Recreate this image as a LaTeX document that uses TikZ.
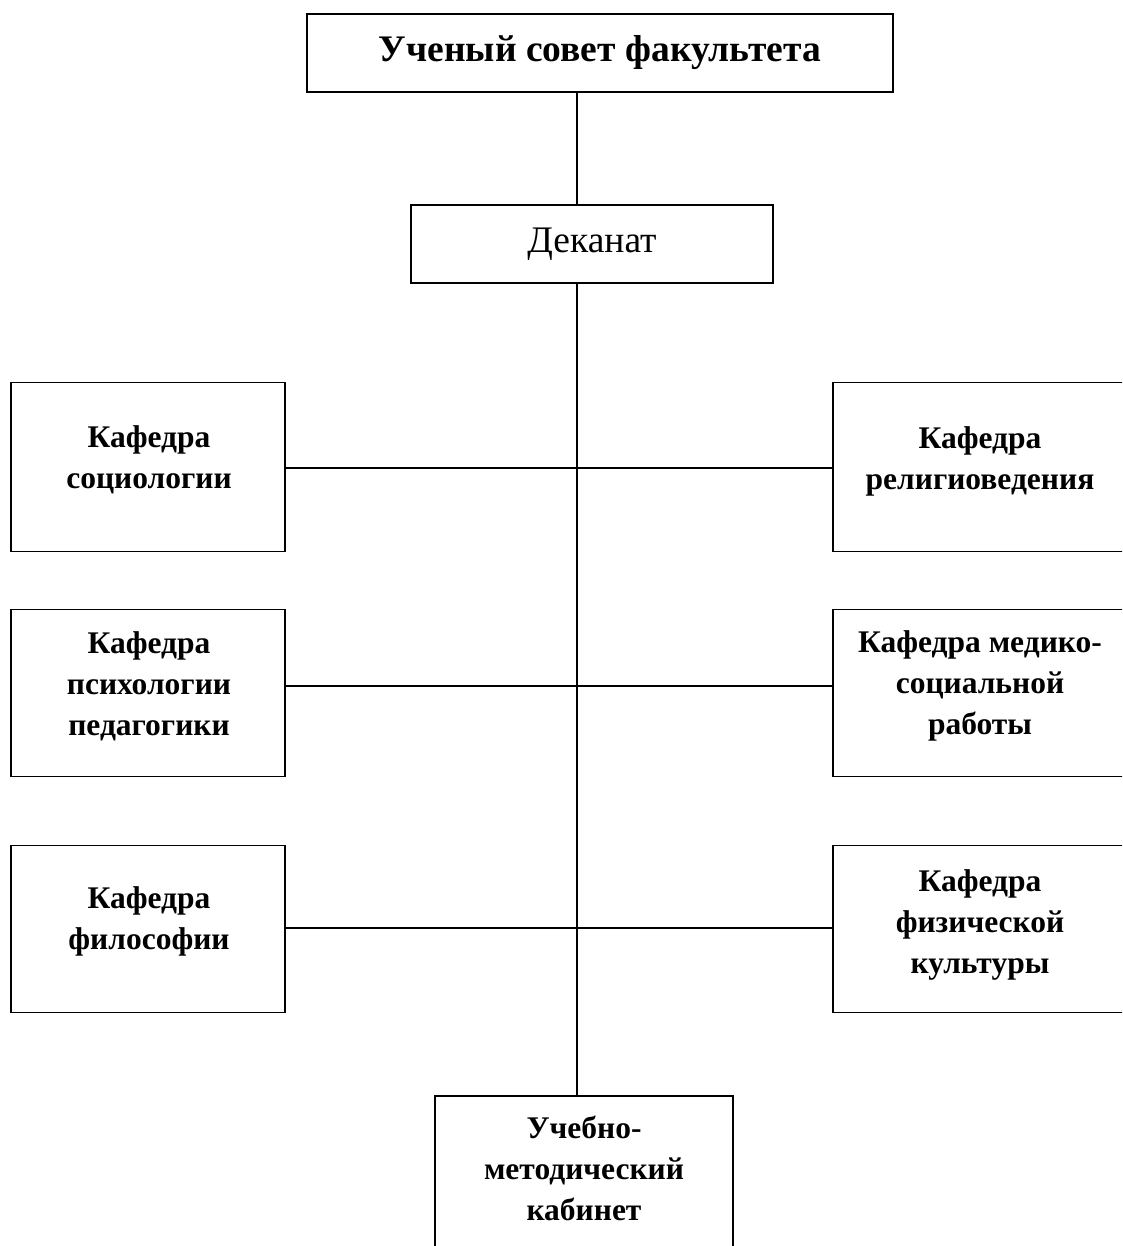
\documentclass[tikz,border=0pt]{standalone}
\usepackage{fontspec}
\setmainfont{Liberation Serif}
\begin{document}
\begin{tikzpicture}[x=1pt,y=-1pt,
  box/.style={draw, line width=1.9pt, rectangle, inner sep=0pt},
  dept/.style={align=center, font=\fontsize{31.5}{41}\selectfont\bfseries, inner sep=0pt},
  conn/.style={line width=1.9pt}]
\useasboundingbox (0,0) rectangle (1122,1246);
\clip (0,0) rectangle (1122,1246);
% top
\node[box, minimum width=586, minimum height=78, font=\fontsize{37.5}{40}\selectfont\bfseries] (top) at (600,53) {Ученый совет факультета};
\node[box, minimum width=362, minimum height=78, font=\fontsize{37.5}{40}\selectfont] (dean) at (592,244) {Деканат};
% left boxes
\node[box, minimum width=274, minimum height=169] (l1) at (148,467) {};
\node[box, minimum width=274, minimum height=167] (l2) at (148,693) {};
\node[box, minimum width=274, minimum height=167] (l3) at (148,929) {};
% right boxes
\node[box, minimum width=296, minimum height=169] (r1) at (981,467) {};
\node[box, minimum width=296, minimum height=167] (r2) at (981,693) {};
\node[box, minimum width=296, minimum height=167] (r3) at (981,929) {};
% bottom box
\node[box, minimum width=298, minimum height=220] (ub) at (584,1206) {};
% texts
\node[dept] (tl1) at (149,460) {Кафедра\\социологии};
\node[dept] (tl2) at (149,686) {Кафедра\\психологии\\педагогики};
\node[dept] (tl3) at (149,921) {Кафедра\\философии};
\node[dept] (tr1) at (980,461) {Кафедра\\религиоведения};
\node[dept] (tr2) at (980,686) {Кафедра медико-\\социальной\\работы};
\node[dept] (tr3) at (980,925) {Кафедра\\физической\\культуры};
\node[dept] (tub) at (584,1168) {Учебно-\\методический\\кабинет};
% spine
\coordinate (sp) at (577,0);
\coordinate (j1) at (577,468);
\coordinate (j2) at (577,686);
\coordinate (j3) at (577,928);
\draw[conn] (top.south -| sp) -- (dean.north -| sp);
\draw[conn] (dean.south -| sp) -- (ub.north -| sp);
\draw[conn] (j1 -| l1.east) -- (j1 -| r1.west);
\draw[conn] (j2 -| l2.east) -- (j2 -| r2.west);
\draw[conn] (j3 -| l3.east) -- (j3 -| r3.west);
\end{tikzpicture}
\end{document}
